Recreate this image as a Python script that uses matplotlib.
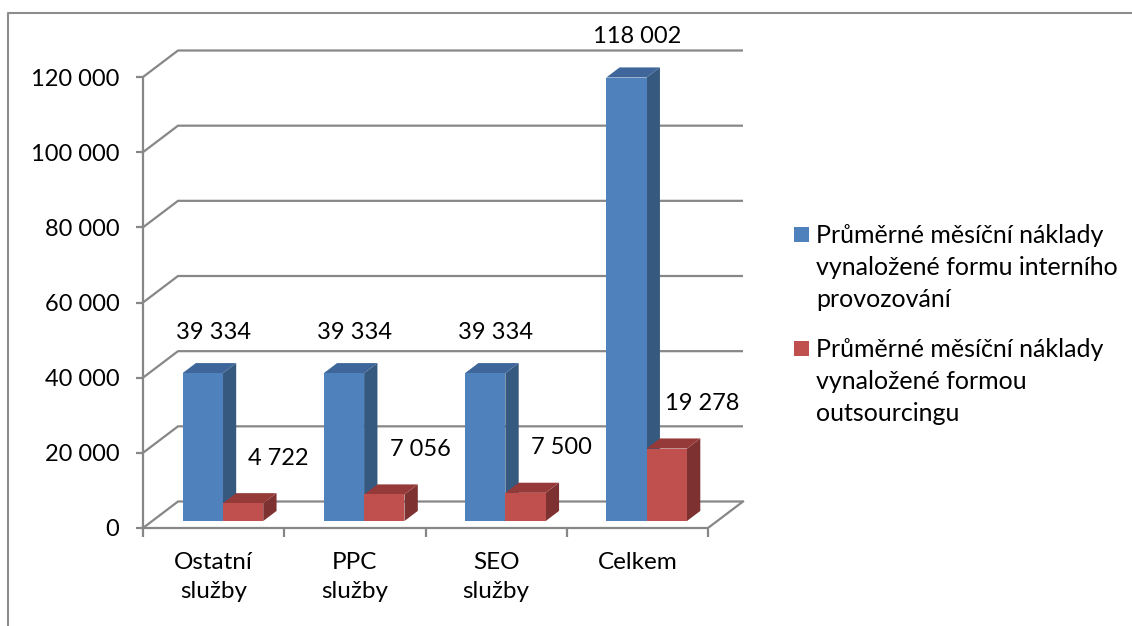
import matplotlib
matplotlib.use("Agg")
import matplotlib.pyplot as plt
from matplotlib.patches import Polygon
from matplotlib.lines import Line2D

plt.rcParams['font.family'] = ['Lato', 'DejaVu Sans']

# data
categories = ["Ostatní\nslužby", "PPC\nslužby", "SEO\nslužby", "Celkem"]
internal = [39334, 39334, 39334, 118002]
outsourcing = [4722, 7056, 7500, 19278]
series_names = [
    "Průměrné měsíční náklady\nvynaložené formu interního\nprovozování",
    "Průměrné měsíční náklady\nvynaložené formou\noutsourcingu",
]
y_ticks = [0, 20000, 40000, 60000, 80000, 100000, 120000]

# colours: front, side, top
blue = ("#4f81bd", "#36597f", "#3e669b")
red = ("#c0504d", "#7d3130", "#953a38")
grid_col = "#878787"

W, H = 1132, 626
fig = plt.figure(figsize=(W / 100, H / 100), dpi=100)


def px(x, y):
    return x / W, 1 - y / H


# axes placed so that 0..4 categories span 143..708 px and 0..120000 spans 528..77 px
cw = 141.25
vs = 451 / 120000
xmax, ymax = 4.3, 132000
ax = fig.add_axes([143 / W, (H - 528) / H, xmax * cw / W, ymax * vs / H])
ax.set_xlim(0, xmax)
ax.set_ylim(0, ymax)

# depth of the pseudo 3d box in data units
Dx = 35 / cw
Dy = 26.5 / vs
f0, f1 = 0.264, 0.645
bw = 1 / 3.5
gap = 0.75 / 3.5

# back wall gridlines + side wall diagonals
for v in y_ticks:
    ax.plot([0, Dx, 4 + Dx], [v, v + Dy, v + Dy], color=grid_col, lw=1.6,
            solid_capstyle='butt', zorder=1)
# floor right edge
ax.plot([4, 4 + Dx], [0, Dy], color=grid_col, lw=1.6, zorder=1)


def bar3d(x0, v, cols):
    fr, sd, tp = cols
    xa, xb = x0 + f0 * Dx, x0 + bw + f0 * Dx
    xc, xd = x0 + f1 * Dx, x0 + bw + f1 * Dx
    ya, yb = f0 * Dy, f1 * Dy
    ax.add_patch(Polygon([(xb, ya), (xd, yb), (xd, yb + v), (xb, ya + v)],
                         closed=True, facecolor=sd, edgecolor='none', zorder=3))
    ax.add_patch(Polygon([(xa, ya + v), (xb, ya + v), (xd, yb + v), (xc, yb + v)],
                         closed=True, facecolor=tp, edgecolor='none', zorder=3))
    ax.add_patch(Polygon([(xa, ya), (xb, ya), (xb, ya + v), (xa, ya + v)],
                         closed=True, facecolor=fr, edgecolor='none', zorder=3))


def fmt(v):
    return f"{v:,}".replace(",", " ")


fm = (f0 + f1) / 2
for i in range(len(categories)):
    for s, (vals, cols, off) in enumerate([(internal, blue, (4, 36)),
                                           (outsourcing, red, (29, 40))]):
        x0 = i + gap + s * bw
        v = vals[i]
        bar3d(x0, v, cols)
        ax.annotate(fmt(v), (x0 + bw / 2 + fm * Dx, fm * Dy + v),
                    xytext=off, textcoords='offset pixels',
                    ha='center', va='center', fontsize=17, color='black',
                    annotation_clip=False, zorder=5)
    ax.annotate(categories[i], (i + 0.5, 0), xytext=(0, -24),
                textcoords='offset pixels', ha='center', va='top',
                fontsize=17.5, linespacing=1.45, annotation_clip=False)

# axes lines
for side in ['top', 'right']:
    ax.spines[side].set_visible(False)
ax.spines['left'].set_bounds(0, 120000)
ax.spines['bottom'].set_bounds(0, 4)
for side in ['left', 'bottom']:
    ax.spines[side].set_color(grid_col)
    ax.spines[side].set_linewidth(1.6)
    ax.spines[side].set_zorder(2)

ax.set_yticks(y_ticks)
ax.set_yticklabels([fmt(v) for v in y_ticks])
ax.tick_params(axis='y', length=5, width=1.6, color=grid_col, pad=12,
               labelsize=17)
ax.set_xticks(range(5))
ax.set_xticklabels([])
ax.tick_params(axis='x', length=6.5, width=1.6, color=grid_col)
ax.patch.set_visible(False)

# legend
leg_y = [227, 341]
for s, (name, cols) in enumerate(zip(series_names, [blue, red])):
    x, y = px(794, leg_y[s])
    fig.patches.append(plt.Rectangle((x, y - 15 / H), 15 / W, 15 / H,
                                     transform=fig.transFigure,
                                     facecolor=cols[0], edgecolor='none'))
    tx, ty = px(816, leg_y[s] - 3)
    fig.text(tx, ty, name, ha='left', va='top', fontsize=18, linespacing=1.47)

# outer frame
fig.add_artist(Line2D([8 / W, 8 / W, 1.01], [-0.01, 1 - 13 / H, 1 - 13 / H],
                      transform=fig.transFigure, color="#8c8c8c", lw=1.5))

fig.savefig("out.png", dpi=100)
